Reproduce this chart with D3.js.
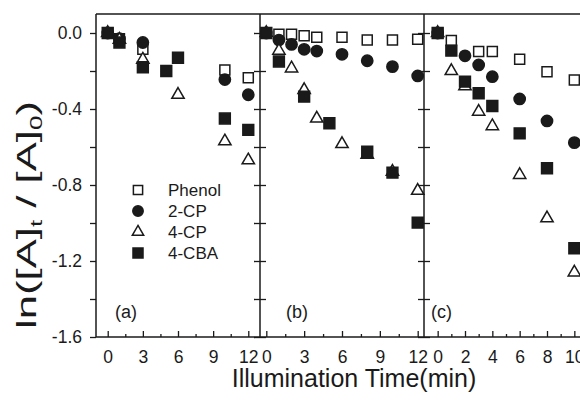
<!DOCTYPE html>
<html>
<head>
<meta charset="utf-8">
<script src="https://cdn.jsdelivr.net/npm/d3@7"></script>
<style>
  body { margin: 0; background: #fff; }
  svg { display: block; font-family: "Liberation Sans", Arial, sans-serif; }
</style>
</head>
<body>
<svg id="chart" width="580" height="404"></svg>
<script>
// Series, [time (min), ln([A]t/[A]0)]
const phenolA = [[0, 0], [1, -0.03], [3, -0.085], [10, -0.195], [12, -0.235]];
const cp2A = [[0, 0], [1, -0.03], [3, -0.05], [10, -0.245], [12, -0.325]];
const cp4A = [[0, 0], [1, -0.035], [3, -0.14], [6, -0.325], [10, -0.57], [12, -0.67]];
const cbaA = [[0, 0], [1, -0.05], [3, -0.18], [5, -0.2], [6, -0.13], [10, -0.45], [12, -0.51]];

const phenolB = [[0, 0], [1, -0.007], [2, -0.007], [3, -0.014], [4, -0.023], [6, -0.023], [8, -0.037], [10, -0.037], [12, -0.033]];
const cp2B = [[0, 0], [1, -0.037], [2, -0.06], [3, -0.086], [4, -0.095], [6, -0.112], [8, -0.146], [10, -0.177], [12, -0.226]];
const cp4B = [[0, 0], [1, -0.093], [2, -0.186], [3, -0.3], [4, -0.45], [6, -0.584], [8, -0.64], [10, -0.73], [12, -0.83]];
const cbaB = [[0, 0], [1, -0.15], [3, -0.335], [5, -0.475], [8, -0.625], [10, -0.735], [12, -0.998]];

const phenolC = [[0, 0], [1, -0.04], [3, -0.098], [4, -0.098], [6, -0.138], [8, -0.204], [10, -0.247]];
const cp2C = [[0, 0], [2, -0.12], [3, -0.168], [4, -0.23], [6, -0.347], [8, -0.463], [10, -0.577]];
const cp4C = [[0, 0], [1, -0.2], [2, -0.28], [3, -0.414], [4, -0.49], [6, -0.747], [8, -0.975], [10, -1.26]];
const cbaC = [[0, 0], [1, -0.093], [2, -0.256], [3, -0.317], [4, -0.384], [6, -0.528], [8, -0.712], [10, -1.133]];

const seriesNames = ["Phenol", "2-CP", "4-CP", "4-CBA"];
const panelNames = ["(a)", "(b)", "(c)"];
const xTicksA = [0, 3, 6, 9, 12];
const xTicksB = [0, 3, 6, 9, 12];
const xTicksC = [0, 2, 4, 6, 8, 10];
const xMinorA = [1.5, 4.5, 7.5, 10.5];
const xMinorB = [1.5, 4.5, 7.5, 10.5];
const xMinorC = [1, 3, 5, 7, 9];
const yTicks = [0, -0.4, -0.8, -1.2, -1.6];
const yMinor = [-0.2, -0.6, -1.0, -1.4];

const svg = d3.select("#chart");
const plotTop = 14, plotBottom = 337, panelW = 164;
const ink = "#1a1a1a";

const y = d3.scaleLinear().domain([-1.6, 0.1]).range([plotBottom, plotTop]);

// marker styles per series
const shapes = [
  { type: d3.symbolSquare, size: 100, fill: "#fff" },
  { type: d3.symbolCircle, size: 100, fill: ink },
  { type: d3.symbolTriangle, size: 66, fill: "#fff" },
  { type: d3.symbolSquare, size: 118, fill: ink }
];

const panels = [
  { x0: 96, domain: [-1, 13], ticks: xTicksA, minor: xMinorA, data: [phenolA, cp2A, cp4A, cbaA], lx: 115 },
  { x0: 260, domain: [-0.5, 12.5], ticks: xTicksB, minor: xMinorB, data: [phenolB, cp2B, cp4B, cbaB], lx: 286 },
  { x0: 424, domain: [-1, 11], ticks: xTicksC, minor: xMinorC, data: [phenolC, cp2C, cp4C, cbaC], lx: 431 }
];

const styleAxis = g => {
  g.select(".domain").remove();
  g.selectAll("line").attr("stroke", ink).attr("stroke-width", 1.3);
  g.selectAll("text").attr("fill", ink).attr("font-size", 17.5).attr("font-family", null);
};

panels.forEach((p, i) => {
  const x = d3.scaleLinear().domain(p.domain).range([p.x0, p.x0 + panelW]);

  // x axis, ticks pointing inward
  svg.append("g")
    .attr("transform", `translate(0,${plotBottom})`)
    .call(d3.axisBottom(x).tickValues(p.ticks).tickSizeInner(-6).tickSizeOuter(0).tickPadding(14))
    .call(styleAxis);
  svg.append("g")
    .attr("transform", `translate(0,${plotBottom})`)
    .call(d3.axisBottom(x).tickValues(p.minor).tickSizeInner(-3).tickSizeOuter(0).tickFormat(""))
    .call(styleAxis);

  // y axis on the left edge of every panel, labels only on the first
  svg.append("g")
    .attr("transform", `translate(${p.x0},0)`)
    .call(d3.axisLeft(y).tickValues(yTicks.concat(yMinor)).tickSizeInner(6).tickSizeOuter(0).tickPadding(8)
      .tickFormat(d => (i === 0 && yTicks.includes(d)) ? d3.format(".1f")(d).replace("−", "-") : ""))
    .call(styleAxis);
  if (i < 2) {
    svg.append("g")
      .attr("transform", `translate(${p.x0 + panelW},0)`)
      .call(d3.axisRight(y).tickValues(yTicks.concat(yMinor)).tickSizeInner(6).tickSizeOuter(0).tickFormat(""))
      .call(styleAxis);
  }

  // points
  p.data.forEach((series, s) => {
    const sh = shapes[s];
    svg.append("g").selectAll("path")
      .data(series)
      .join("path")
      .attr("transform", d => `translate(${x(d[0])},${y(d[1])})`)
      .attr("d", d3.symbol().type(sh.type).size(sh.size))
      .attr("fill", sh.fill)
      .attr("stroke", ink)
      .attr("stroke-width", 1.5);
  });

  svg.append("text")
    .attr("x", p.lx).attr("y", 318)
    .attr("font-size", 18).attr("fill", ink)
    .text(panelNames[i]);
});

// frame
const frame = svg.append("g").attr("stroke", ink).attr("stroke-width", 1.5).attr("fill", "none");
frame.append("line").attr("x1", 96).attr("x2", 590).attr("y1", plotTop).attr("y2", plotTop);
frame.append("line").attr("x1", 96).attr("x2", 590).attr("y1", plotBottom).attr("y2", plotBottom);
panels.forEach(p => {
  frame.append("line").attr("x1", p.x0).attr("x2", p.x0).attr("y1", plotTop).attr("y2", plotBottom);
});

// legend inside panel (a)
const legend = svg.append("g");
seriesNames.forEach((name, s) => {
  const sh = shapes[s];
  const ly = 190 + s * 21;
  legend.append("path")
    .attr("transform", `translate(138,${ly})`)
    .attr("d", d3.symbol().type(sh.type).size(sh.size * 0.85))
    .attr("fill", sh.fill).attr("stroke", ink).attr("stroke-width", 1.5);
  legend.append("text")
    .attr("x", 168).attr("y", ly).attr("dy", "0.36em")
    .attr("font-size", 17).attr("fill", ink)
    .text(name);
});

// axis titles
svg.append("text")
  .attr("x", 354).attr("y", 387)
  .attr("text-anchor", "middle")
  .attr("font-size", 25).attr("fill", ink)
  .text("Illumination Time(min)");

const yTitle = svg.append("text")
  .attr("font-size", 27).attr("fill", ink)
  .attr("text-anchor", "middle");
yTitle.append("tspan").text("ln([A]");
yTitle.append("tspan").attr("font-size", 16).attr("dy", 6).text("t");
yTitle.append("tspan").attr("dy", -6).text(" / [A]");
yTitle.append("tspan").attr("font-size", 16).attr("dy", 6).text("0");
yTitle.append("tspan").attr("dy", -6).text(")");
const w = yTitle.node().getComputedTextLength();
yTitle.attr("transform", `translate(36,215) rotate(-90) scale(${228 / w},1)`);
</script>
</body>
</html>
